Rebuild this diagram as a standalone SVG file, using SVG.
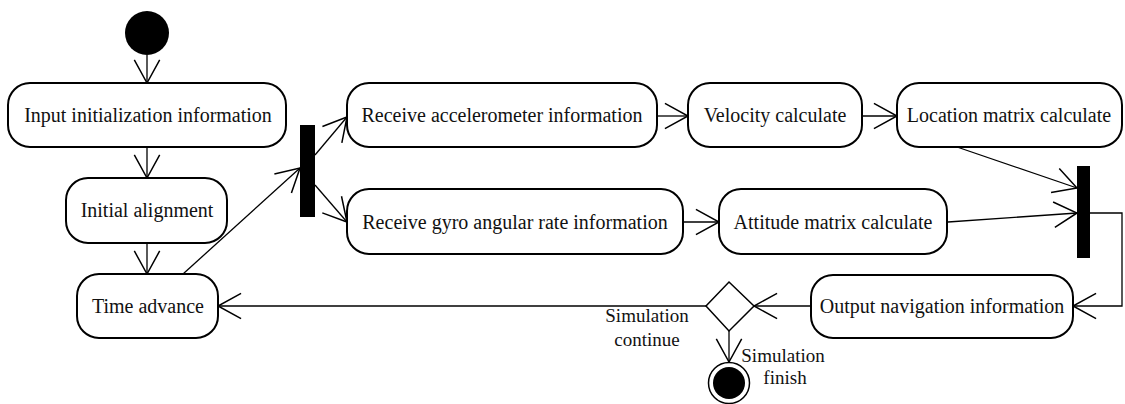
<svg xmlns="http://www.w3.org/2000/svg" width="1125" height="404" viewBox="0 0 1125 404" font-family="Liberation Serif, serif">
<style>
.box{fill:#fff;stroke:#000;stroke-width:2}
text{font-family:"Liberation Serif",serif}
.lbl{font-size:20px;fill:#111;text-anchor:middle}
.sm{font-size:19px;fill:#111;text-anchor:middle}
.edge{fill:none;stroke:#000;stroke-width:1.3;marker-end:url(#arr)}
.bar{fill:#000}
</style>
<defs>
<marker id="arr" markerUnits="userSpaceOnUse" orient="auto" refX="0" refY="0" markerWidth="30" markerHeight="30" viewBox="-22 -13 24 26" overflow="visible">
<path d="M -20 -11 L 0 0 L -20 11" fill="none" stroke="#000" stroke-width="1.3"/>
</marker>
</defs>
<g id="connectors">
<line class="edge" x1="147" y1="55" x2="147" y2="83"/>
<line class="edge" x1="147" y1="147" x2="147" y2="178"/>
<line class="edge" x1="147" y1="243" x2="147" y2="274"/>
<line class="edge" x1="183" y1="274" x2="300" y2="168"/>
<line class="edge" x1="315" y1="155" x2="347" y2="117"/>
<line class="edge" x1="315" y1="185" x2="347" y2="222"/>
<line class="edge" x1="657" y1="116" x2="688" y2="116"/>
<line class="edge" x1="862" y1="116" x2="897" y2="116"/>
<line class="edge" x1="683" y1="222" x2="719" y2="222"/>
<line class="edge" x1="957" y1="147" x2="1077" y2="188"/>
<line class="edge" x1="948" y1="222" x2="1077" y2="213"/>
<polyline class="edge" points="1090,213 1122,213 1122,306 1073,306"/>
<line class="edge" x1="811" y1="306" x2="754" y2="306"/>
<line class="edge" x1="706" y1="306" x2="218" y2="306"/>
<line class="edge" x1="729" y1="331" x2="729" y2="362"/>
</g>
<g id="start"><circle cx="147" cy="33" r="22" fill="#000"/></g>
<g id="n-input"><rect class="box" x="8" y="83" width="278" height="64" rx="22"/><text class="lbl" x="148" y="122" font-family="Liberation Serif, serif">Input initialization information</text></g>
<g id="n-align"><rect class="box" x="66" y="178" width="161" height="65" rx="22"/><text class="lbl" x="147" y="217" font-family="Liberation Serif, serif">Initial alignment</text></g>
<g id="n-time"><rect class="box" x="77" y="274" width="141" height="64" rx="22"/><text class="lbl" x="148" y="313" font-family="Liberation Serif, serif">Time advance</text></g>
<g id="fork"><rect class="bar" x="300" y="125" width="15" height="92"/></g>
<g id="n-accel"><rect class="box" x="347" y="83" width="310" height="64" rx="22"/><text class="lbl" x="502" y="122" font-family="Liberation Serif, serif">Receive accelerometer information</text></g>
<g id="n-gyro"><rect class="box" x="347" y="189" width="336" height="65" rx="22"/><text class="lbl" x="515" y="229" font-family="Liberation Serif, serif">Receive gyro angular rate information</text></g>
<g id="n-vel"><rect class="box" x="688" y="83" width="174" height="64" rx="22"/><text class="lbl" x="775" y="122" font-family="Liberation Serif, serif">Velocity calculate</text></g>
<g id="n-loc"><rect class="box" x="897" y="83" width="225" height="64" rx="22"/><text class="lbl" x="1009" y="122" font-family="Liberation Serif, serif">Location matrix calculate</text></g>
<g id="n-att"><rect class="box" x="719" y="189" width="228" height="65" rx="22"/><text class="lbl" x="833" y="229" font-family="Liberation Serif, serif">Attitude matrix calculate</text></g>
<g id="join"><rect class="bar" x="1077" y="166" width="13" height="92"/></g>
<g id="n-out"><rect class="box" x="811" y="275" width="262" height="63" rx="22"/><text class="lbl" x="942" y="313" font-family="Liberation Serif, serif">Output navigation information</text></g>
<g id="decision"><polygon points="729,282 754,306 729,331 706,306" fill="#fff" stroke="#000" stroke-width="1.5"/></g>
<g id="end"><circle cx="729" cy="383" r="20.5" fill="#fff" stroke="#000" stroke-width="1.5"/><circle cx="729" cy="383" r="16" fill="#000"/></g>
<g id="labels" font-family="Liberation Serif, serif">
<text class="sm" x="647" y="322">Simulation</text>
<text class="sm" x="647" y="346">continue</text>
<text class="sm" x="783" y="362">Simulation</text>
<text class="sm" x="785" y="384">finish</text>
</g>
</svg>
